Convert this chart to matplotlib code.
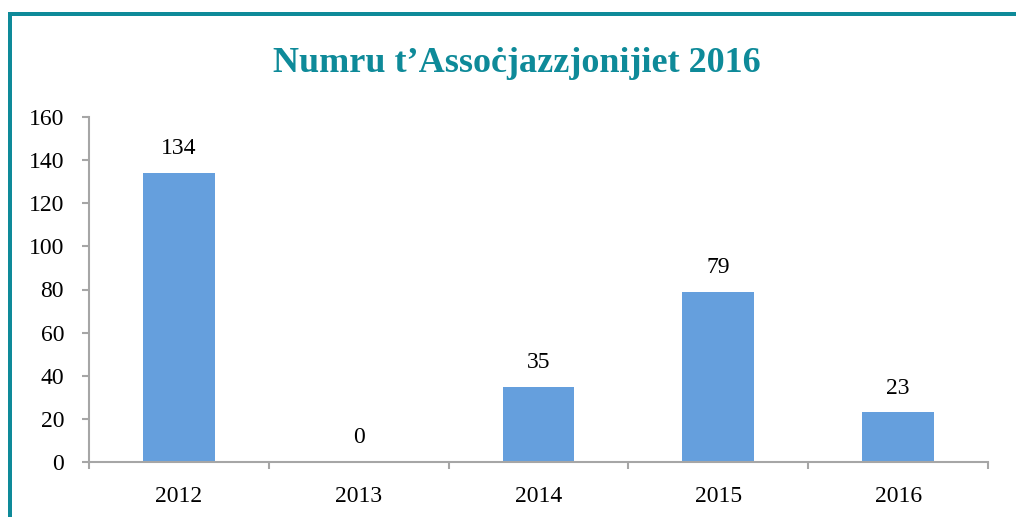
import matplotlib
matplotlib.use("Agg")
import matplotlib.pyplot as plt
from matplotlib.patches import Rectangle

years = ["2012", "2013", "2014", "2015", "2016"]
values = [134, 0, 35, 79, 23]
title = "Numru t\u2019Asso\u010bjazzjonijiet 2016"

W, H = 1016, 517
fig = plt.figure(figsize=(W / 100, H / 100), dpi=100)
fig.patch.set_facecolor("white")

teal = "#0E8A99"
# frame lines
fig.add_artist(Rectangle((8 / W, 0), 4 / W, 1 - 12 / H, transform=fig.transFigure, color=teal, lw=0))
fig.add_artist(Rectangle((8 / W, 1 - 16 / H), 1, 4 / H, transform=fig.transFigure, color=teal, lw=0))

ax = fig.add_axes([89 / W, 1 - 462 / H, (988 - 89) / W, (462 - 117) / H])
x = list(range(len(years)))
ax.bar(x, values, width=0.4, color="#659FDD", zorder=2)
ax.set_xlim(-0.5, len(years) - 0.5)
ax.set_ylim(0, 160)
ax.set_yticks(range(0, 161, 20))
ax.set_xticks(x)
ax.set_xticklabels(years)
ax.set_xticks([i - 0.5 for i in range(len(years) + 1)], minor=True)
ax.tick_params(axis="x", which="major", length=0, pad=17)
ax.tick_params(axis="x", which="minor", length=5, width=1.5, color="#A6A6A6", direction="out")
ax.tick_params(axis="y", length=5, width=1.5, color="#A6A6A6", direction="out", pad=13)

serif = "Liberation Serif"
for lab in ax.get_xticklabels() + ax.get_yticklabels():
    lab.set_fontfamily(serif)
    lab.set_fontsize(17)
    lab.set_color("black")

for s in ["top", "right"]:
    ax.spines[s].set_visible(False)
for s in ["left", "bottom"]:
    ax.spines[s].set_color("#A6A6A6")
    ax.spines[s].set_linewidth(1.5)

for xi, v in zip(x, values):
    ax.annotate(str(v), (xi, v), xytext=(0, 10), textcoords="offset points",
                ha="center", va="bottom", fontfamily=serif, fontsize=17)

fig.text(517 / W, 1 - 64 / H, title, ha="center", va="center", fontfamily=serif,
         fontweight="bold", fontsize=26, color=teal)

fig.savefig("out.png", dpi=100)
